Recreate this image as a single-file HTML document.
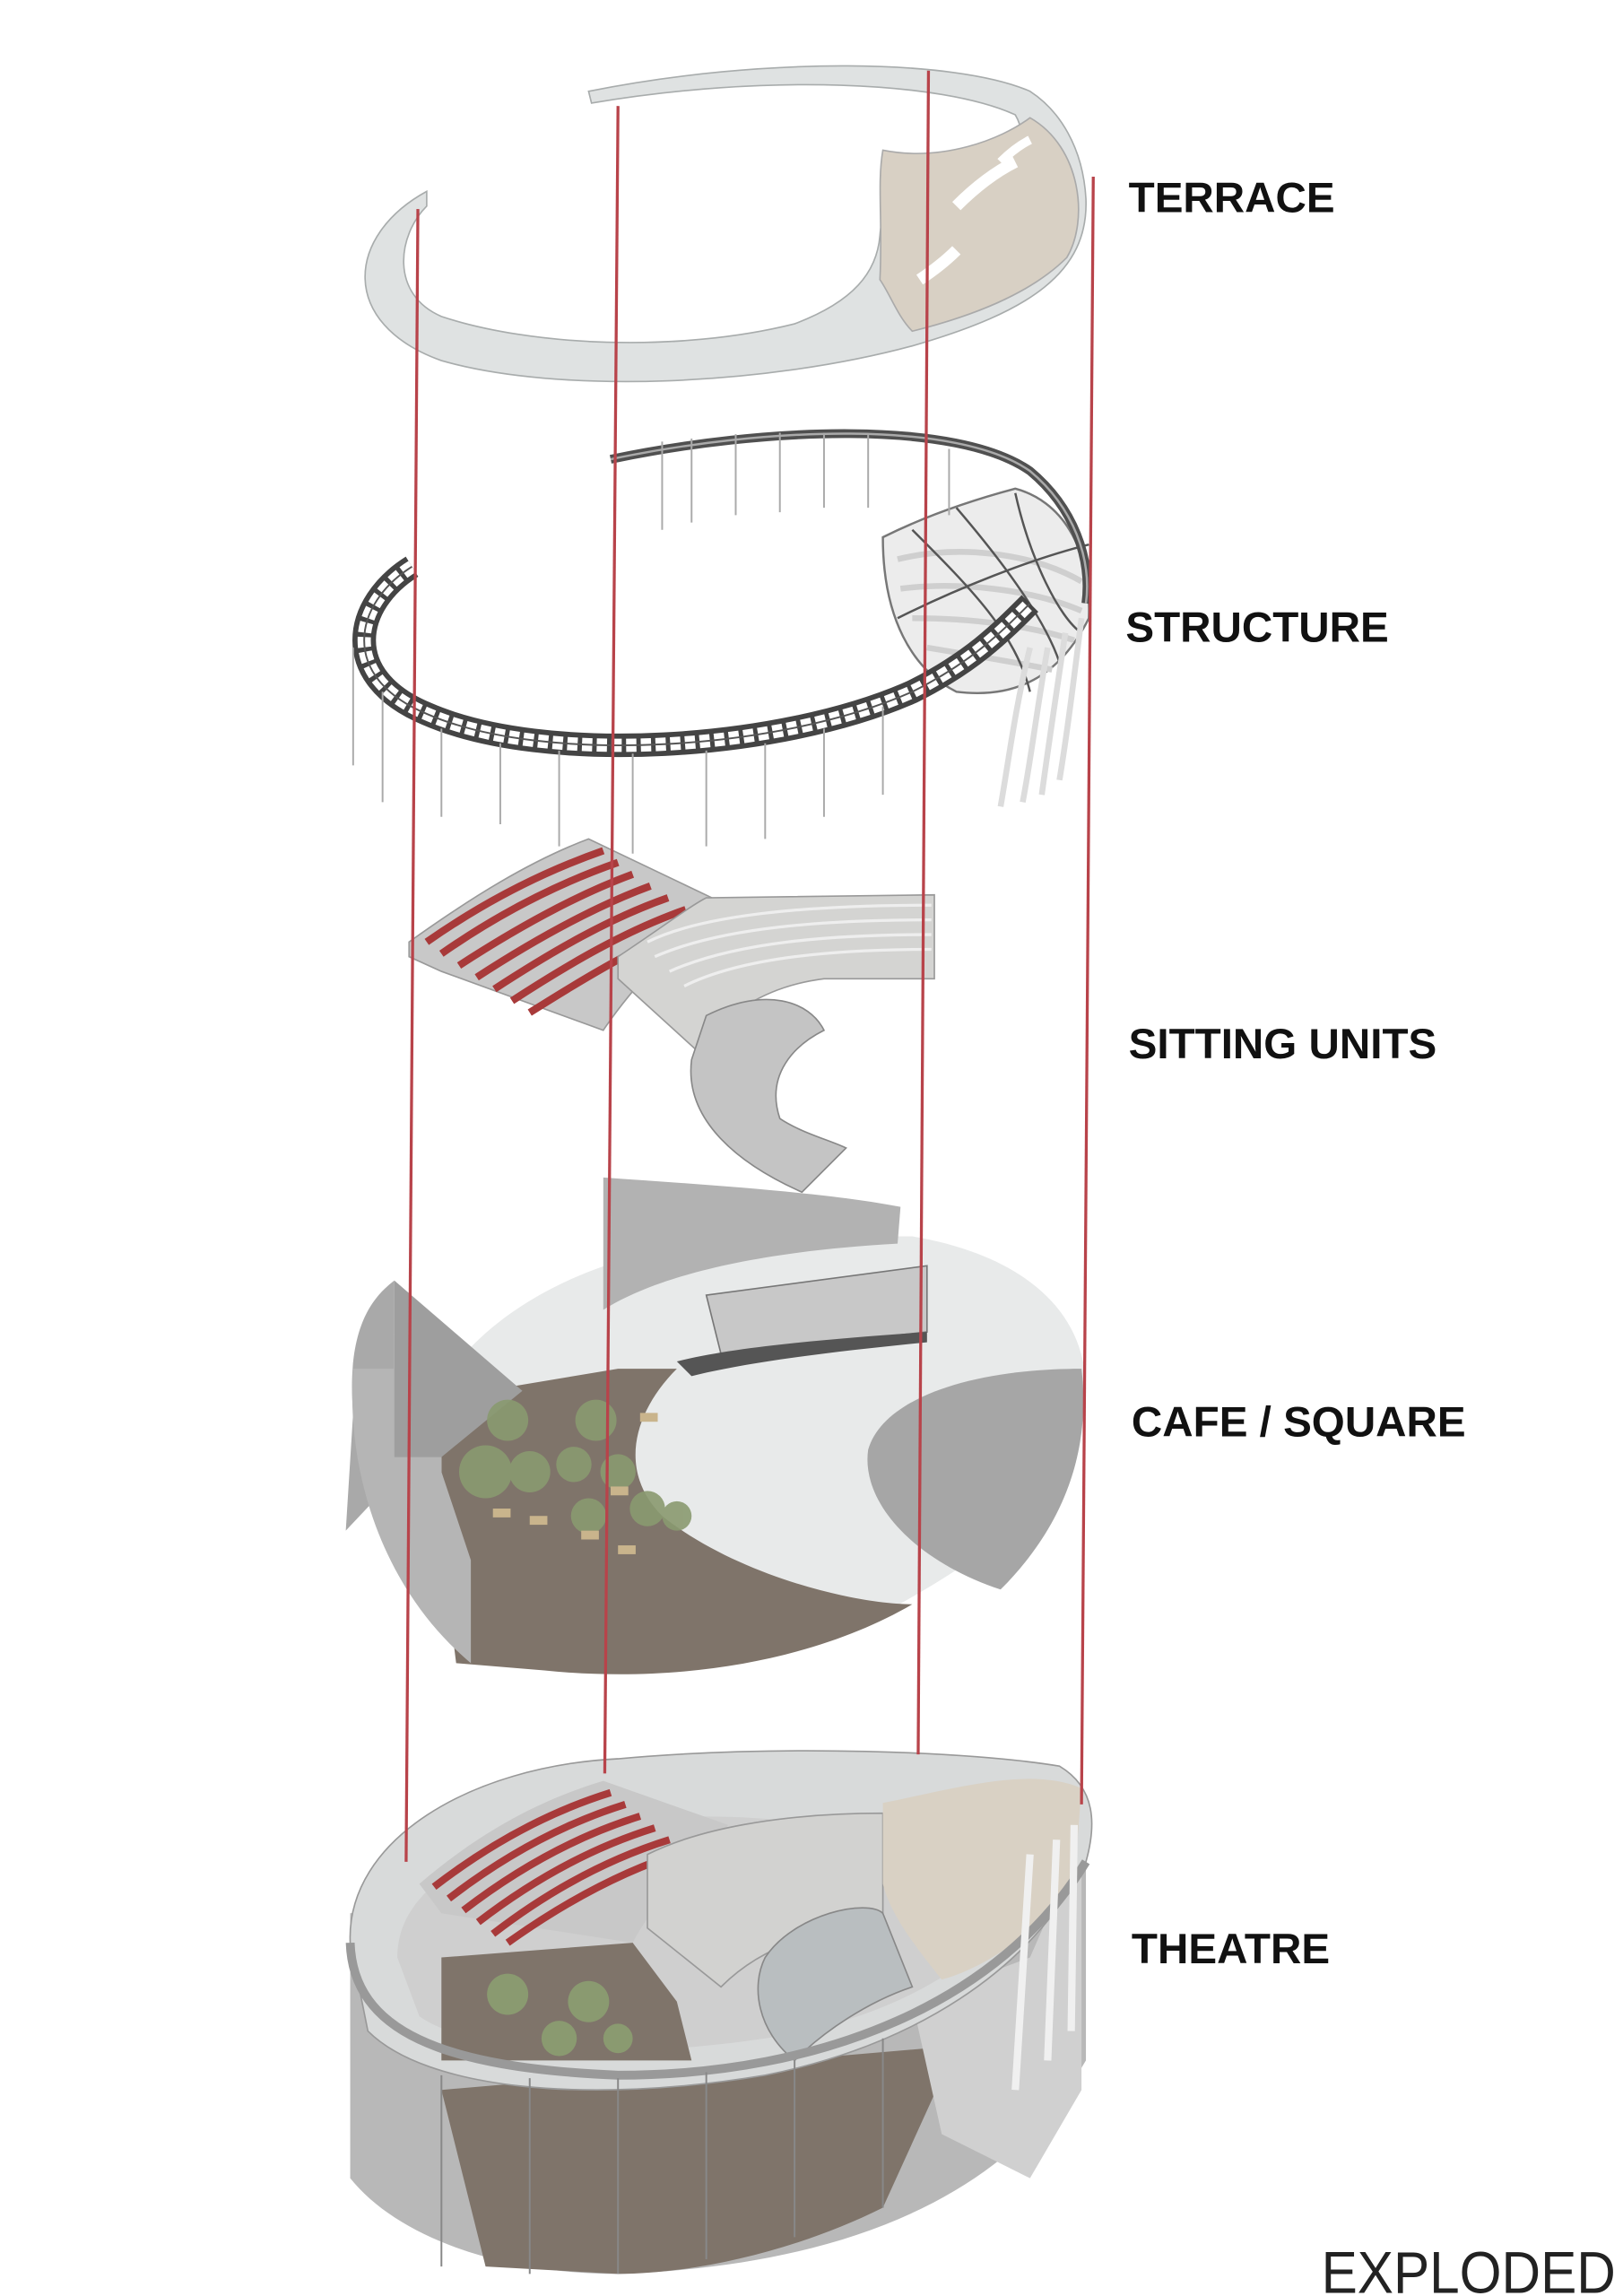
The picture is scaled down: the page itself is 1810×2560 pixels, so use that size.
<!DOCTYPE html>
<html><head><meta charset="utf-8"><style>
html,body{margin:0;padding:0;background:#fff}
svg{display:block}
</style></head><body>
<svg width="1810" height="2560" viewBox="0 0 1103 1560" xmlns="http://www.w3.org/2000/svg">
<rect width="1103" height="1560" fill="#fff"/>
<!-- TERRACE -->
<g>
<path d="M290,130 C235,160 230,220 300,245 C380,268 520,262 620,235 C700,212 740,185 738,135 C736,100 720,75 700,62 C650,40 520,38 400,62 L402,70 C520,50 640,55 690,78 C700,95 690,110 660,112 C620,115 600,130 598,160 C596,185 580,205 540,220 C460,240 360,235 300,215 C265,200 270,160 290,140 Z" fill="#dfe2e2" stroke="#a8acac" stroke-width="1"/>
<path d="M600,102 C640,110 680,95 700,80 C735,100 740,150 725,175 C700,200 660,215 620,225 C610,215 605,200 598,190 C600,150 596,125 600,102 Z" fill="#d8d0c4" stroke="#aaa" stroke-width="1"/>
<path d="M650,140 q20,-20 40,-30" stroke="#fff" stroke-width="8" fill="none"/>
<path d="M625,190 q15,-10 25,-20" stroke="#fff" stroke-width="8" fill="none"/>
<path d="M680,110 q10,-10 20,-15" stroke="#fff" stroke-width="6" fill="none"/>
</g>
<!-- STRUCTURE -->
<g fill="none">
<path d="M600,365 C630,350 660,340 690,332 C720,340 742,370 740,420 C720,460 690,475 650,470 C620,455 600,420 600,365 Z" fill="#ececec" stroke="#777" stroke-width="1.5"/>
<g stroke="#cfcfcf" stroke-width="4"><path d="M610,380 C650,370 700,375 735,395"/><path d="M612,400 C650,395 700,400 735,415"/><path d="M620,420 C660,420 700,425 730,435"/><path d="M630,440 C660,445 690,450 715,455"/></g>
<g stroke="#555" stroke-width="1.5"><path d="M620,360 C660,400 690,430 700,470"/><path d="M650,345 C680,380 710,420 720,450"/><path d="M690,335 C700,380 720,420 735,430"/><path d="M610,420 C650,400 700,380 740,370"/></g>
<g stroke="#dcdcdc" stroke-width="4"><path d="M700,440 C690,480 685,520 680,548"/><path d="M712,440 C705,480 700,520 695,545"/><path d="M724,430 C718,470 712,510 708,540"/><path d="M735,420 C730,460 725,500 720,530"/></g>
<path d="M415,312 C520,290 650,285 700,320 C730,345 742,380 738,410" stroke="#505050" stroke-width="6"/>
<path d="M415,312 C520,290 650,285 700,320 C730,345 742,380 738,410" stroke="#aaa" stroke-width="1.5"/>
<path d="M280,385 C240,410 230,460 290,485 C370,520 530,510 620,470 C660,450 680,430 700,410" stroke="#444" stroke-width="16"/>
<path d="M280,385 C240,410 230,460 290,485 C370,520 530,510 620,470 C660,450 680,430 700,410" stroke="#fff" stroke-width="9" stroke-dasharray="7 3"/>
<path d="M280,385 C240,410 230,460 290,485 C370,520 530,510 620,470 C660,450 680,430 700,410" stroke="#555" stroke-width="1.2"/>
<g stroke="#aaa" stroke-width="1.2">
<line x1="450" y1="300" x2="450" y2="360"/><line x1="470" y1="298" x2="470" y2="355"/><line x1="500" y1="295" x2="500" y2="350"/><line x1="530" y1="294" x2="530" y2="348"/><line x1="560" y1="294" x2="560" y2="345"/><line x1="590" y1="295" x2="590" y2="345"/><line x1="645" y1="305" x2="645" y2="350"/>
<line x1="240" y1="440" x2="240" y2="520"/><line x1="260" y1="470" x2="260" y2="545"/><line x1="300" y1="495" x2="300" y2="555"/><line x1="340" y1="505" x2="340" y2="560"/><line x1="380" y1="510" x2="380" y2="575"/><line x1="430" y1="512" x2="430" y2="580"/><line x1="480" y1="510" x2="480" y2="575"/><line x1="520" y1="505" x2="520" y2="570"/><line x1="560" y1="495" x2="560" y2="555"/><line x1="600" y1="480" x2="600" y2="540"/>
</g>
</g>
<!-- SITTING UNITS -->
<g>
<path d="M278,640 C320,610 360,585 400,570 L488,612 C460,640 430,670 410,700 L300,660 L278,650 Z" fill="#c8c8c8" stroke="#999"/>
<g stroke="#a83a3a" stroke-width="5" fill="none">
<path d="M290,640 C330,612 370,592 410,578"/><path d="M300,648 C340,620 380,600 420,586"/><path d="M312,656 C352,630 392,608 430,594"/><path d="M324,664 C364,638 404,616 442,602"/><path d="M336,672 C376,646 414,624 454,610"/><path d="M348,680 C388,654 426,632 466,618"/><path d="M360,688 C398,664 438,640 476,626"/>
</g>
<path d="M420,650 C450,630 470,615 480,610 L635,608 L635,665 L560,665 C520,670 490,690 475,715 L420,665 Z" fill="#d4d4d2" stroke="#999"/>
<g stroke="#eee" stroke-width="2" fill="none"><path d="M440,640 C480,620 560,615 633,615"/><path d="M445,650 C490,630 560,625 633,625"/><path d="M455,660 C500,640 565,635 633,635"/><path d="M465,670 C505,650 570,645 633,645"/></g>
<path d="M480,690 C520,670 550,680 560,700 C540,710 520,730 530,760 C545,770 565,775 575,780 L545,810 C500,790 465,760 470,720 Z" fill="#c4c4c4" stroke="#888"/>
</g>
<!-- CAFE / SQUARE -->
<g>
<path d="M240,960 C235,900 255,880 268,870 L268,1005 L235,1040 Z" fill="#a9a9a9"/>
<path d="M245,960 C250,1060 300,1110 360,1130 C450,1150 560,1120 620,1085 C700,1040 740,990 738,940 C735,880 680,850 620,840 L520,840 C420,845 340,880 300,940 Z" fill="#e8eaea"/>
<path d="M300,950 L420,930 L460,930 C430,960 420,1000 450,1030 C500,1070 580,1090 620,1090 C560,1125 470,1145 370,1135 L310,1130 L300,1050 Z" fill="#7f746a"/>
<path d="M590,985 C600,950 660,930 735,930 C742,990 720,1040 680,1080 C620,1060 585,1020 590,985 Z" fill="#a6a6a6"/>
<path d="M240,930 C235,1000 260,1080 320,1130 L320,1060 L300,1000 L300,930 Z" fill="#b5b5b5"/>
<path d="M268,870 L355,945 L300,990 L268,990 Z" fill="#9e9e9e"/>
<path d="M410,800 L410,890 C450,865 520,850 610,845 L612,820 C560,810 480,805 410,800 Z" fill="#b2b2b2"/>
<path d="M480,880 L630,860 L630,905 L490,920 Z" fill="#c8c8c8" stroke="#777"/>
<path d="M460,925 C500,915 560,910 630,905 L630,912 C570,918 510,925 470,935 Z" fill="#555"/>
<g fill="#8a9a70" opacity="0.9"><circle cx="345" cy="965" r="14"/><circle cx="330" cy="1000" r="18"/><circle cx="360" cy="1000" r="14"/><circle cx="405" cy="965" r="14"/><circle cx="390" cy="995" r="12"/><circle cx="420" cy="1000" r="12"/><circle cx="440" cy="1025" r="12"/><circle cx="400" cy="1030" r="12"/><circle cx="460" cy="1030" r="10"/></g>
<g fill="#c9b48c"><rect x="395" y="1040" width="12" height="6"/><rect x="420" y="1050" width="12" height="6"/><rect x="360" y="1030" width="12" height="6"/><rect x="435" y="960" width="12" height="6"/><rect x="415" y="1010" width="12" height="6"/><rect x="335" y="1025" width="12" height="6"/></g>
</g>
<!-- THEATRE -->
<g>
<path d="M238,1300 L238,1480 C270,1520 340,1545 420,1545 C560,1540 680,1500 738,1400 L738,1240 Z" fill="#b8b8b8"/>
<path d="M300,1420 L650,1390 L600,1500 C540,1530 470,1545 420,1545 L330,1540 Z" fill="#7f746a"/>
<path d="M620,1360 L700,1330 L735,1250 L735,1420 L700,1480 L640,1450 Z" fill="#d0d0d0"/>
<path d="M238,1320 C235,1250 320,1200 420,1195 C530,1185 660,1190 720,1200 C745,1215 745,1240 738,1265 C700,1340 620,1390 520,1410 C400,1430 290,1420 250,1380 Z" fill="#d8dada" stroke="#999"/>
<path d="M270,1330 C270,1280 330,1250 410,1240 C470,1230 520,1235 560,1240 C600,1250 640,1250 660,1225 C690,1205 720,1215 720,1240 C700,1320 620,1370 520,1385 C420,1400 320,1395 285,1370 Z" fill="#cfcfcf"/>
<path d="M285,1280 C320,1250 360,1225 410,1210 L495,1240 C465,1270 440,1300 430,1320 L300,1300 Z" fill="#c8c8c8"/>
<g stroke="#a83a3a" stroke-width="5" fill="none">
<path d="M295,1282 C330,1255 370,1232 415,1218"/><path d="M305,1290 C340,1263 380,1240 425,1226"/><path d="M315,1298 C350,1271 390,1248 435,1234"/><path d="M325,1306 C360,1279 400,1256 445,1242"/><path d="M335,1314 C370,1287 410,1264 455,1250"/><path d="M345,1320 C380,1295 420,1272 465,1258"/>
</g>
<path d="M440,1260 C480,1240 540,1232 600,1232 L600,1310 C560,1310 520,1320 490,1350 L440,1310 Z" fill="#d2d2d0" stroke="#999"/>
<path d="M600,1225 C650,1215 700,1200 735,1215 L730,1280 C700,1320 660,1340 640,1345 C620,1320 605,1300 600,1280 Z" fill="#d9d1c4"/>
<path d="M520,1330 C540,1300 590,1290 600,1300 L620,1350 C590,1360 560,1380 540,1400 C515,1380 510,1350 520,1330 Z" fill="#b9bec0" stroke="#888"/>
<path d="M300,1330 L430,1320 L460,1360 L470,1400 L300,1400 Z" fill="#7f746a"/>
<g fill="#8a9a70"><circle cx="345" cy="1355" r="14"/><circle cx="400" cy="1360" r="14"/><circle cx="380" cy="1385" r="12"/><circle cx="420" cy="1385" r="10"/></g>
<path d="M238,1320 C240,1380 300,1405 420,1410 C560,1410 680,1360 738,1265" fill="none" stroke="#999" stroke-width="6"/>
<g stroke="#888" stroke-width="1.2"><line x1="300" y1="1410" x2="300" y2="1540"/><line x1="360" y1="1412" x2="360" y2="1545"/><line x1="420" y1="1412" x2="420" y2="1545"/><line x1="480" y1="1408" x2="480" y2="1535"/><line x1="540" y1="1400" x2="540" y2="1520"/><line x1="600" y1="1385" x2="600" y2="1500"/></g>
<g stroke="#f0f0f0" stroke-width="5"><line x1="700" y1="1260" x2="690" y2="1420"/><line x1="718" y1="1250" x2="712" y2="1400"/><line x1="730" y1="1240" x2="728" y2="1380"/></g>
</g>
<!-- red lines -->
<g stroke="#b8434a" stroke-width="2">
<line x1="284" y1="142" x2="276" y2="1265"/>
<line x1="420" y1="72" x2="411" y2="1205"/>
<line x1="631" y1="48" x2="624" y2="1192"/>
<line x1="743" y1="120" x2="735" y2="1226"/>
</g>
<!-- labels -->
<g font-family="Liberation Sans, sans-serif" font-weight="bold" font-size="29" fill="#111">
<text x="767" y="144">TERRACE</text>
<text x="765" y="436">STRUCTURE</text>
<text x="767" y="719">SITTING UNITS</text>
<text x="769" y="976">CAFE / SQUARE</text>
<text x="769" y="1334">THEATRE</text>
</g>
<text x="898" y="1558" font-family="Liberation Sans, sans-serif" font-size="40" fill="#222" textLength="200" lengthAdjust="spacingAndGlyphs">EXPLODED</text>
</svg>
</body></html>
